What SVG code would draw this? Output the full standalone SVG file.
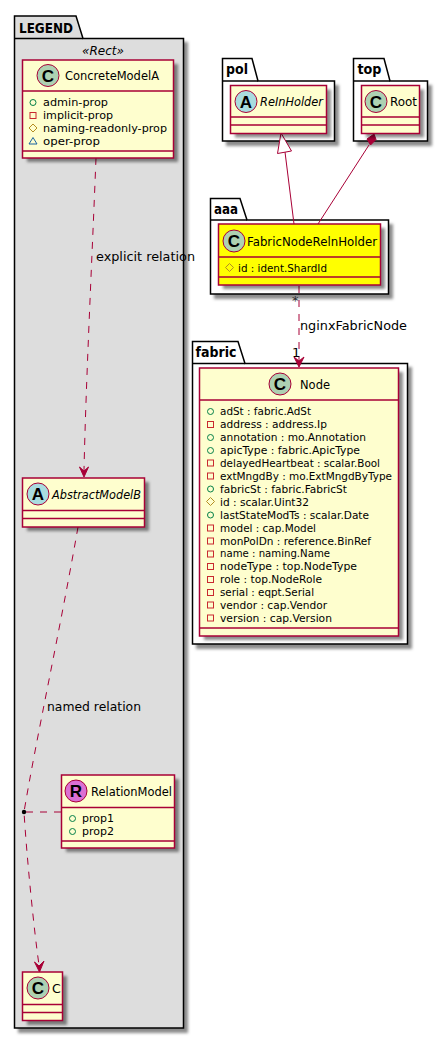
<svg xmlns="http://www.w3.org/2000/svg" width="448" height="1039" viewBox="0 0 448 1039">
<style>
text{font-family:"DejaVu Sans","Liberation Sans",sans-serif;fill:#000}
.pk{stroke:#000;stroke-width:1.5}
.bx{fill:#FEFECE;stroke:#A80036;stroke-width:1.5}
.ln{stroke:#A80036;stroke-width:1.5;fill:none}
.cx{stroke:#A80036;stroke-width:1;fill:none}
.sh{fill:#000;fill-opacity:.45;filter:url(#b)}
.pt{font-size:14px;font-weight:bold}
.cn{font-size:12.5px}
.at{font-size:11px}
.lb{font-size:13px}
.ci{stroke:#A80036;stroke-width:1}
.cl{font-size:17px;font-weight:bold;text-anchor:middle;font-family:"Liberation Sans",sans-serif}
.vg{fill:none;stroke:#038048;stroke-width:1}
.vr{fill:none;stroke:#C82930;stroke-width:1}
.vd{fill:none;stroke:#B38D22;stroke-width:1}
.vb{fill:none;stroke:#1963A0;stroke-width:1}
</style>
<defs>
<filter id="b" x="-20%" y="-20%" width="140%" height="140%"><feGaussianBlur stdDeviation="1.6"/></filter>
<circle id="cg" r="3" class="vg"/>
<rect id="cr" x="-3" y="-3" width="6" height="6" class="vr"/>
<path id="cd" d="M0-4L4 0L0 4L-4 0Z" class="vd"/>
</defs>

<g id="pkg-legend">
<path class="sh" d="M18 42H188V1033H18Z"/>
<path class="pk" fill="#DDDDDD" d="M14.5 38.500V16H76L83 38.500H183.500V1028H14.500Z"/>
<path class="pk" fill="none" d="M14.500 38.500H83"/>
<text x="19" y="33" class="pt" textLength="54" lengthAdjust="spacingAndGlyphs">LEGEND</text>
<text x="82" y="55" font-size="13" font-style="italic" textLength="42" lengthAdjust="spacingAndGlyphs">«Rect»</text>
</g>
<g id="pkg-pol">
<path class="sh" d="M226 85H339V146H226Z"/>
<path class="pk" fill="#fff" d="M222.500 81V58.500H252L258 81H334.500V141H222.500Z"/>
<path class="pk" fill="none" d="M222.500 81H258"/>
<text x="226" y="74" class="pt" textLength="22" lengthAdjust="spacingAndGlyphs">pol</text>
</g>
<g id="pkg-top">
<path class="sh" d="M357 85H432V146H357Z"/>
<path class="pk" fill="#fff" d="M353.500 81V58.500H384L390 81H427.500V141H353.500Z"/>
<path class="pk" fill="none" d="M353.500 81H390"/>
<text x="357.500" y="74" class="pt" textLength="24" lengthAdjust="spacingAndGlyphs">top</text>
</g>
<g id="pkg-aaa">
<path class="sh" d="M214 224H393V299H214Z"/>
<path class="pk" fill="#fff" d="M210.500 220V198.500H240L247 220H388.500V294H210.500Z"/>
<path class="pk" fill="none" d="M210.500 220H247"/>
<text x="214" y="214" class="pt" textLength="24" lengthAdjust="spacingAndGlyphs">aaa</text>
</g>
<g id="pkg-fabric">
<path class="sh" d="M196 367H412V649H196Z"/>
<path class="pk" fill="#fff" d="M192.500 363.500V341.500H238L245 363.500H407.500V644H192.500Z"/>
<path class="pk" fill="none" d="M192.500 363.500H245"/>
<text x="195.500" y="357" class="pt" textLength="41" lengthAdjust="spacingAndGlyphs">fabric</text>
</g>

<g id="connectors">
<path class="cx" stroke-dasharray="7,7" d="M96 158C92 260 86 380 84 470"/>
<path fill="#A80036" stroke="#A80036" d="M84 477L79.500 467L84 471L88.500 467Z"/>
<path class="cx" stroke-dasharray="7,7" d="M78 527C60 630 36 740 24 812C27 860 34 930 39 965"/>
<path fill="#A80036" stroke="#A80036" d="M39.500 972L34.500 962L39 966L44 961Z"/>
<path class="cx" stroke-dasharray="7,7" d="M61 812H24"/>
<circle cx="24" cy="812" r="2.200" fill="#000"/>
<path class="cx" d="M285 152L294 224"/>
<path fill="#fff" stroke="#A80036" stroke-width="1" d="M281 133L291.500 151L277.500 153.500Z"/>
<path class="cx" d="M369 145L318 224"/>
<path fill="#A80036" stroke="#A80036" d="M374 134L376 139.500L370.500 145L367 139Z"/>
<path class="cx" stroke-dasharray="7,7" d="M299 286V360"/>
<path fill="#A80036" stroke="#A80036" d="M299 367L294 357L299 361L304 357Z"/>
<text x="96" y="261" class="lb" textLength="99" lengthAdjust="spacingAndGlyphs">explicit relation</text>
<text x="47" y="711" class="lb" textLength="94" lengthAdjust="spacingAndGlyphs">named relation</text>
<text x="300" y="330" class="lb" textLength="107" lengthAdjust="spacingAndGlyphs">nginxFabricNode</text>
<text x="292" y="305" class="lb" fill-opacity=".8">*</text>
<text x="292" y="357" class="lb">1</text>
</g>

<g id="node-concrete">
<rect class="sh" x="27" y="64" width="151" height="98"/>
<rect class="bx" x="22.500" y="60" width="151" height="98"/>
<path class="ln" d="M22.500 91H173.500M22.500 151H173.500"/>
<circle cx="48" cy="75.500" r="11" fill="#ADD1B2" class="ci"/><text x="48" y="81.500" class="cl">C</text>
<text x="65" y="80" class="cn" textLength="94" lengthAdjust="spacingAndGlyphs">ConcreteModelA</text>
<use href="#cg" x="33" y="102.500"/><text x="43" y="106" class="at" textLength="65" lengthAdjust="spacingAndGlyphs">admin-prop</text>
<use href="#cr" x="33" y="115.500"/><text x="43" y="119" class="at" textLength="70" lengthAdjust="spacingAndGlyphs">implicit-prop</text>
<use href="#cd" x="33" y="128"/><text x="43" y="132" class="at" textLength="124" lengthAdjust="spacingAndGlyphs">naming-readonly-prop</text>
<path class="vb" d="M33 137.500L37 144H29Z"/><text x="43" y="145" class="at" textLength="57" lengthAdjust="spacingAndGlyphs">oper-prop</text>
</g>
<g id="node-abstract">
<rect class="sh" x="27" y="482" width="122" height="49"/>
<rect class="bx" x="22.500" y="478" width="122" height="49"/>
<path class="ln" d="M22.500 510.500H144.500M22.500 518.500H144.500"/>
<circle cx="38" cy="494" r="11" fill="#A9DCDF" class="ci"/><text x="38" y="500" class="cl">A</text>
<text x="52" y="499" class="cn" font-style="italic" textLength="89" lengthAdjust="spacingAndGlyphs">AbstractModelB</text>
</g>
<g id="node-relation">
<rect class="sh" x="66" y="779" width="113" height="73"/>
<rect class="bx" x="61.500" y="775" width="113" height="73"/>
<path class="ln" d="M61.500 807.500H174.500M61.500 841H174.500"/>
<circle cx="76" cy="791" r="11" fill="#DB6FD3" class="ci"/><text x="76" y="797" class="cl">R</text>
<text x="91" y="796" class="cn" textLength="81" lengthAdjust="spacingAndGlyphs">RelationModel</text>
<use href="#cg" x="72.500" y="818.500"/><text x="82" y="822" class="at" textLength="32" lengthAdjust="spacingAndGlyphs">prop1</text>
<use href="#cg" x="72.500" y="831.500"/><text x="82" y="835" class="at" textLength="32" lengthAdjust="spacingAndGlyphs">prop2</text>
</g>
<g id="node-c">
<rect class="sh" x="27" y="976" width="40" height="49"/>
<rect class="bx" x="22.500" y="972" width="40" height="48.500"/>
<path class="ln" d="M22.500 1004.500H62.500M22.500 1012.500H62.500"/>
<circle cx="38" cy="988" r="11" fill="#ADD1B2" class="ci"/><text x="38" y="994" class="cl">C</text>
<text x="52" y="993" class="cn">C</text>
</g>
<g id="node-relnholder">
<rect class="sh" x="235" y="89.500" width="96" height="48"/>
<rect class="bx" x="230.500" y="85.500" width="96" height="48"/>
<path class="ln" d="M230.500 117H326.500M230.500 125H326.500"/>
<circle cx="246" cy="101.500" r="11" fill="#A9DCDF" class="ci"/><text x="246" y="107.500" class="cl">A</text>
<text x="260" y="106" class="cn" font-style="italic" textLength="63" lengthAdjust="spacingAndGlyphs">ReInHolder</text>
</g>
<g id="node-root">
<rect class="sh" x="366" y="89.500" width="58" height="48"/>
<rect class="bx" x="361.500" y="85.500" width="58" height="48"/>
<path class="ln" d="M361.500 117H419.500M361.500 125H419.500"/>
<circle cx="376" cy="101.500" r="11" fill="#ADD1B2" class="ci"/><text x="376" y="107.500" class="cl">C</text>
<text x="390" y="106" class="cn" textLength="27" lengthAdjust="spacingAndGlyphs">Root</text>
</g>
<g id="node-fnrh">
<rect class="sh" x="223" y="228" width="162" height="61"/>
<rect x="218.500" y="224" width="162" height="61" fill="#FFFF00" stroke="#A80036" stroke-width="1.500"/>
<path class="ln" d="M218.500 257H380.500M218.500 277H380.500"/>
<circle cx="234" cy="241" r="11" fill="#ADD1B2" class="ci"/><text x="234" y="247" class="cl">C</text>
<text x="247" y="246" class="cn" textLength="130" lengthAdjust="spacingAndGlyphs">FabricNodeRelnHolder</text>
<use href="#cd" x="229.500" y="267.500"/><text x="238" y="272" class="at" textLength="89" lengthAdjust="spacingAndGlyphs">id : ident.ShardId</text>
</g>
<g id="node-node">
<rect class="sh" x="204" y="372" width="199" height="268"/>
<rect class="bx" x="199.500" y="368" width="199" height="268"/>
<path class="ln" d="M199.500 400H398.500M199.500 628H398.500"/>
<circle cx="280" cy="384" r="11" fill="#ADD1B2" class="ci"/><text x="280" y="390" class="cl">C</text>
<text x="300" y="389" class="cn" textLength="30" lengthAdjust="spacingAndGlyphs">Node</text>
<use href="#cg" x="210.500" y="411.500"/><text x="220" y="415" class="at" textLength="91" lengthAdjust="spacingAndGlyphs">adSt : fabric.AdSt</text>
<use href="#cr" x="210.500" y="424.500"/><text x="220" y="428" class="at" textLength="107" lengthAdjust="spacingAndGlyphs">address : address.Ip</text>
<use href="#cg" x="210.500" y="437.500"/><text x="220" y="441" class="at" textLength="146" lengthAdjust="spacingAndGlyphs">annotation : mo.Annotation</text>
<use href="#cg" x="210.500" y="450.500"/><text x="220" y="454" class="at" textLength="140" lengthAdjust="spacingAndGlyphs">apicType : fabric.ApicType</text>
<use href="#cr" x="210.500" y="463"/><text x="220" y="466.500" class="at" textLength="160" lengthAdjust="spacingAndGlyphs">delayedHeartbeat : scalar.Bool</text>
<use href="#cr" x="210.500" y="476"/><text x="220" y="479.500" class="at" textLength="172" lengthAdjust="spacingAndGlyphs">extMngdBy : mo.ExtMngdByType</text>
<use href="#cg" x="210.500" y="489"/><text x="220" y="492.500" class="at" textLength="127" lengthAdjust="spacingAndGlyphs">fabricSt : fabric.FabricSt</text>
<use href="#cd" x="210.500" y="501.500"/><text x="220" y="505.500" class="at" textLength="89" lengthAdjust="spacingAndGlyphs">id : scalar.Uint32</text>
<use href="#cg" x="210.500" y="515"/><text x="220" y="518.500" class="at" textLength="149" lengthAdjust="spacingAndGlyphs">lastStateModTs : scalar.Date</text>
<use href="#cr" x="210.500" y="528"/><text x="220" y="531.500" class="at" textLength="96" lengthAdjust="spacingAndGlyphs">model : cap.Model</text>
<use href="#cr" x="210.500" y="541"/><text x="220" y="544.500" class="at" textLength="151" lengthAdjust="spacingAndGlyphs">monPolDn : reference.BinRef</text>
<use href="#cr" x="210.500" y="554"/><text x="220" y="557" class="at" textLength="110" lengthAdjust="spacingAndGlyphs">name : naming.Name</text>
<use href="#cr" x="210.500" y="566.500"/><text x="220" y="570" class="at" textLength="137" lengthAdjust="spacingAndGlyphs">nodeType : top.NodeType</text>
<use href="#cr" x="210.500" y="579.500"/><text x="220" y="583" class="at" textLength="102" lengthAdjust="spacingAndGlyphs">role : top.NodeRole</text>
<use href="#cr" x="210.500" y="592.500"/><text x="220" y="596" class="at" textLength="94" lengthAdjust="spacingAndGlyphs">serial : eqpt.Serial</text>
<use href="#cr" x="210.500" y="605"/><text x="220" y="609" class="at" textLength="107" lengthAdjust="spacingAndGlyphs">vendor : cap.Vendor</text>
<use href="#cr" x="210.500" y="618"/><text x="220" y="622" class="at" textLength="112" lengthAdjust="spacingAndGlyphs">version : cap.Version</text>
</g>
</svg>
